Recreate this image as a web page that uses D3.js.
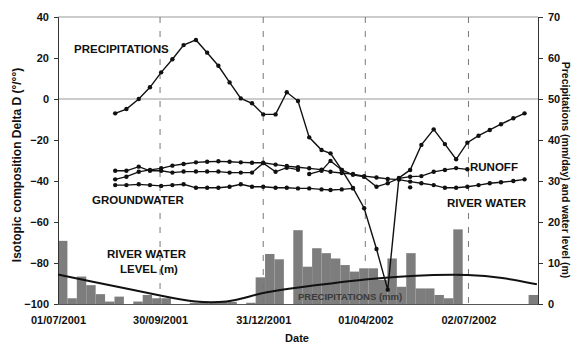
<!DOCTYPE html>
<html><head><meta charset="utf-8">
<script src="https://cdn.jsdelivr.net/npm/d3@7"></script>
<style>
body{margin:0;background:#fff}
text{font-family:"Liberation Sans",Arial,sans-serif;font-weight:bold;fill:#111}
</style></head>
<body><svg id="c" width="576" height="350"></svg>
<script>
// ---- data ----
const xTickDates = ["2001-07-01","2001-09-30","2001-12-31","2002-04-01","2002-07-02"];
const xTickLabels = ["01/07/2001","30/09/2001","31/12/2001","01/04/2002","02/07/2002"];
const leftTicks = [-100,-80,-60,-40,-20,0,20,40];
const rightTicks = [0,10,20,30,40,50,60,70];

const sampleDates = ["2001-08-21","2001-08-31","2001-09-11","2001-09-21","2001-10-01","2001-10-11","2001-10-21",
 "2001-11-01","2001-11-11","2001-11-21","2001-12-01","2001-12-11","2001-12-21","2001-12-31","2002-01-11",
 "2002-01-21","2002-01-31","2002-02-10","2002-02-21","2002-03-01","2002-03-11","2002-03-21","2002-03-31",
 "2002-04-11","2002-04-21","2002-05-01","2002-05-11","2002-05-21","2002-06-01","2002-06-11","2002-06-21",
 "2002-07-01","2002-07-11","2002-07-21","2002-07-31","2002-08-11","2002-08-21"];
const precipIsotope = [-7.0,-4.9,0,5.7,13,19.4,26.3,28.8,22.6,16.2,8.1,0.3,-2.1,-7.5,-7.5,3.3,-1,-18.7,-24.9,-26.5,
 -34.6,-43.4,-53.3,-73.2,-93,-38.5,-34.6,-22.4,-14.8,-22,-29.4,-21.3,-17.9,-15.1,-12.3,-9.4,-7];
const riverWater = [-39.2,-37.9,-35.5,-34.6,-33.8,-32.5,-31.7,-30.9,-30.6,-30.4,-30.6,-30.9,-31.1,-31.1,-32,-32.7,
 -33.3,-33.8,-34.5,-35.5,-36.1,-36.6,-37.6,-38.3,-39,-39.3,-40.3,-41.1,-42,-43.3,-43.3,-42.8,-42,-41.1,-40.6,-40,-39.2];
const groundwater = [-42,-42,-41.6,-42,-42.4,-42,-41.6,-43.3,-43.3,-43.3,-42.8,-41.6,-42.8,-42.8,-43.3,-43.3,
 -43.6,-43.6,-44.1,-44.4,-44.1,-43.6,null,null,null,null,-43.1,null,null,null,null,null,null,null,null,null,null];
const groundwater2 = [-35,-35,-33,-35,-35,-35.9,-35.4,-35.4,-35.4,-35.4,-35.9,-35.9,-35.9,-31.3,-35.5,-33.5,
 -34.5,null,null,null,null,null,null,null,null,null,null,null,null,null,null,null,null,null,null,null,null];
const runoff = [null,null,null,null,null,null,null,null,null,null,null,null,null,null,null,null,null,-36.6,-35,-30.2,
 -34.6,-37,-38,-42.8,-41.1,-38.7,-37.9,-37.6,-35.5,-34.6,-33.7,-34.3,null,null,null,null,null];

// precipitation (mm/day), 51 consecutive bins across the period
const rainBins = [15.4,1.4,6.7,4.6,2.4,0.6,1.8,0,0.6,2.2,1.4,1.4,0,0,0.3,0.5,0.5,0.5,0.5,0,
 0.3,6.5,12.2,10.9,0,18,9.1,13.6,12.4,11.1,9.5,7.9,8.7,8.7,5.9,11.1,4.2,12.4,3.8,3.8,
 2.2,1.4,18.2,0,0,0,0,0,0,0,2.2];

const levelDates = ["2001-07-01","2001-08-01","2001-09-01","2001-10-01","2001-11-01","2001-12-01","2001-12-15",
 "2002-01-01","2002-02-01","2002-03-01","2002-04-01","2002-05-01","2002-06-01","2002-07-01","2002-08-01","2002-09-01"];
const waterLevel = [7.2,5.4,3.7,2.0,0.3,0.5,1.5,2.9,4.1,5.0,6.0,6.7,7.1,7.2,6.5,4.8];

// ---- chart ----
const svg = d3.select("#c");
const L = 58, R = 538, T = 17, B = 304;
const parse = d3.utcParse("%Y-%m-%d");
const x = d3.scaleUtc().domain([parse("2001-07-01"), parse("2002-09-02")]).range([L, R]);
const yL = d3.scaleLinear().domain([-100, 40]).range([B, T]);
const yR = d3.scaleLinear().domain([0, 70]).range([B, T]);

// bars
const xb = d3.scaleBand().domain(d3.range(rainBins.length)).range([L, R]).padding(0);
svg.append("g").selectAll("rect").data(rainBins).join("rect")
  .attr("x", (d, i) => xb(i)).attr("width", xb.bandwidth())
  .attr("y", d => yR(d)).attr("height", d => yR(0) - yR(d))
  .attr("fill", "#7d7d7d");

// grid
svg.append("line").attr("x1", L).attr("x2", R).attr("y1", yL(0)).attr("y2", yL(0)).attr("stroke", "#999").attr("stroke-width", 1);
svg.append("line").attr("x1", L).attr("x2", R).attr("y1", T).attr("y2", T).attr("stroke", "#999").attr("stroke-width", 1);
svg.append("g").selectAll("line").data(xTickDates.slice(1)).join("line")
  .attr("x1", d => x(parse(d))).attr("x2", d => x(parse(d)))
  .attr("y1", T).attr("y2", B).attr("stroke", "#777").attr("stroke-width", 1).attr("stroke-dasharray", "6,8");

// axes
const axL = svg.append("g").attr("transform", `translate(${L},0)`)
  .call(d3.axisLeft(yL).tickValues(leftTicks).tickSize(4).tickPadding(5));
const axR = svg.append("g").attr("transform", `translate(${R},0)`)
  .call(d3.axisRight(yR).tickValues(rightTicks).tickSize(5).tickPadding(5));
const axB = svg.append("g").attr("transform", `translate(0,${B})`)
  .call(d3.axisBottom(x).tickValues(xTickDates.map(parse)).tickFormat((d, i) => xTickLabels[i]).tickSize(0).tickPadding(12));
[axL, axR, axB].forEach(a => {
  a.selectAll("text").style("font-size", "11px").style("font-weight", "bold").attr("fill", "#111");
  a.select(".domain").attr("stroke", "#333");
  a.selectAll(".tick line").attr("stroke", "#333");
});
axB.select(".domain").attr("stroke", "#555");

// water level
const lvl = levelDates.map((d, i) => ({ d: parse(d), v: waterLevel[i] }));
svg.append("path").datum(lvl)
  .attr("d", d3.line().x(p => x(p.d)).y(p => yR(p.v)).curve(d3.curveBasis))
  .attr("fill", "none").attr("stroke", "#111").attr("stroke-width", 2);

// isotope series
function series(vals, width, continuous) {
  let pts = sampleDates.map((d, i) => ({ d: parse(d), v: vals[i] }));
  if (continuous) pts = pts.filter(p => p.v != null);
  svg.append("path").datum(pts)
    .attr("d", d3.line().defined(p => p.v != null).x(p => x(p.d)).y(p => yL(p.v)))
    .attr("fill", "none").attr("stroke", "#111").attr("stroke-width", width);
  svg.append("g").selectAll("circle").data(pts.filter(p => p.v != null)).join("circle")
    .attr("cx", p => x(p.d)).attr("cy", p => yL(p.v)).attr("r", 2.2).attr("fill", "#111");
}
series(groundwater, 1.3, false);
series(groundwater2, 1.3, false);
series(riverWater, 1.3, false);
series(runoff, 1.3, false);
series(precipIsotope, 1.4, true);

// annotations
const ann = [
  ["PRECIPITATIONS", 74, 53],
  ["GROUNDWATER", 92, 204],
  ["RIVER WATER", 107, 258],
  ["LEVEL (m)", 120, 273],
  ["RUNOFF", 470, 171],
  ["RIVER WATER", 447, 207]
];
svg.append("g").selectAll("text").data(ann).join("text")
  .attr("x", d => d[1]).attr("y", d => d[2]).style("font-size", "11.5px").text(d => d[0]);
svg.append("text").attr("x", 298).attr("y", 300).style("font-size", "9.5px").style("fill", "#3a3a3a").text("PRECIPITATIONS (mm)");

// axis titles
svg.append("text").attr("transform", "translate(21,165) rotate(-90)").attr("text-anchor", "middle")
  .style("font-size", "12px").text("Isotopic composition Delta D (°/°°)");
svg.append("text").attr("transform", "translate(562,170) rotate(90)").attr("text-anchor", "middle")
  .style("font-size", "10.5px").text("Precipitations (mm/day) and water level (m)");
svg.append("text").attr("x", 297).attr("y", 342).attr("text-anchor", "middle").style("font-size", "11px").text("Date");
</script></body></html>
